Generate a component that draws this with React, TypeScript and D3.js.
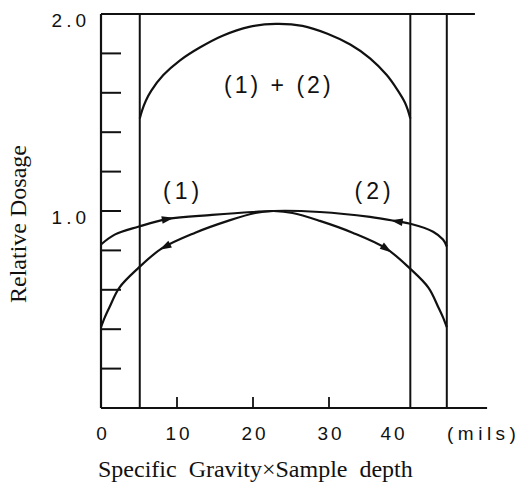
import React from "react";
import * as d3 from "d3";

// curve (1): enters from the left side, arrows point to the right
const curveOneX = [0, 1.8, 4.9, 8.8, 14.6, 19.9, 22.7, 25.2, 28.8, 33.1, 37.5, 40.6, 43.1, 44.4, 45.0, 45.5];
const curveOneY = [0.83, 0.88, 0.92, 0.96, 0.98, 0.995, 1.0, 0.99, 0.95, 0.89, 0.81, 0.71, 0.61, 0.51, 0.46, 0.41];

// curve (2): enters from the right side, arrows point to the left
const curveTwoX = [0, 0.5, 1.1, 2.4, 4.9, 8.0, 12.4, 16.7, 20.3, 22.7, 28.8, 35.4, 38.9, 40.7, 43.7, 45.0, 45.5];
const curveTwoY = [0.41, 0.46, 0.51, 0.61, 0.71, 0.81, 0.89, 0.95, 0.99, 1.0, 0.995, 0.97, 0.948, 0.935, 0.895, 0.855, 0.82];

// (1) + (2)
const sumX = [5.1, 5.4, 5.9, 6.6, 8.2, 10.4, 13.0, 16.0, 19.5, 23.0, 26.5, 29.8, 32.8, 35.4, 37.6, 39.0, 40.0, 40.4, 40.7];
const sumY = [1.47, 1.51, 1.56, 1.61, 1.69, 1.765, 1.83, 1.89, 1.935, 1.95, 1.94, 1.9, 1.845, 1.775, 1.69, 1.615, 1.55, 1.51, 1.47];

const dividers = [5.1, 40.7, 45.5];
const xTicks = [10, 20, 30];
const xLabels = ["0", "10", "20", "30", "40"];
const yTicks = [0.2, 0.4, 0.6, 0.8, 1.0, 1.2, 1.4, 1.6, 1.8];
const yLabels = ["1.0", "2.0"];

const arrowCurves = ["one", "two", "two", "one"];
const arrowAt = [8.8, 8.4, 38.9, 37.6];
const arrowDir = [1, -1, -1, 1];

const W = 528;
const H = 483;
const INK = "#111";
const SANS = "'Liberation Sans', Arial, sans-serif";
const SERIF = "'Liberation Serif', 'Times New Roman', serif";

const x = d3.scaleLinear().domain([0, 50]).range([101, 481]);
const y = d3.scaleLinear().domain([0, 2]).range([408, 14]);

function pts(xs: number[], ys: number[]): [number, number][] {
  return xs.map((v, i) => [v, ys[i]]);
}

function yAt(xs: number[], ys: number[], v: number) {
  const i = Math.max(1, Math.min(xs.length - 1, d3.bisectLeft(xs, v)));
  const t = (v - xs[i - 1]) / (xs[i] - xs[i - 1]);
  return ys[i - 1] + t * (ys[i] - ys[i - 1]);
}

export default function App() {
  const line = d3
    .line<[number, number]>()
    .x((d) => x(d[0]))
    .y((d) => y(d[1]))
    .curve(d3.curveCatmullRom.alpha(0.5));

  const curves: Record<string, [number[], number[]]> = {
    one: [curveOneX, curveOneY],
    two: [curveTwoX, curveTwoY],
  };

  const arrows = arrowAt.map((v, i) => {
    const [xs, ys] = curves[arrowCurves[i]];
    const px = x(v);
    const py = y(yAt(xs, ys, v));
    const a = x(v + 0.6) - x(v - 0.6);
    const b = y(yAt(xs, ys, v + 0.6)) - y(yAt(xs, ys, v - 0.6));
    let ang = (Math.atan2(b, a) * 180) / Math.PI;
    if (arrowDir[i] < 0) ang += 180;
    return { px, py, ang };
  });

  return (
    <svg
      width={W}
      height={H}
      style={{ position: "absolute", left: 0, top: 0, background: "#fff" }}
    >
      {/* frame */}
      <line x1={x(0)} x2={x(0)} y1={y(0)} y2={y(2)} stroke={INK} strokeWidth={2.2} />
      <line x1={x(0)} x2={x(49.2)} y1={y(2)} y2={y(2)} stroke={INK} strokeWidth={2} />
      <line x1={x(0)} x2={x(50.8)} y1={y(0)} y2={y(0)} stroke={INK} strokeWidth={2} />
      {dividers.map((d) => (
        <line key={d} x1={x(d)} x2={x(d)} y1={y(0)} y2={y(2)} stroke={INK} strokeWidth={2} />
      ))}

      {yTicks.map((t) => (
        <line key={t} x1={x(0)} x2={x(0) + 20} y1={y(t)} y2={y(t)} stroke={INK} strokeWidth={2} />
      ))}
      {xTicks.map((t) => (
        <line key={t} x1={x(t)} x2={x(t)} y1={y(0)} y2={y(0) - 11} stroke={INK} strokeWidth={1.8} />
      ))}

      {yLabels.map((l) => (
        <text
          key={l}
          x={90}
          y={y(+l) + 13}
          textAnchor="end"
          fontFamily={SANS}
          fontSize={19}
          letterSpacing={4}
          fill={INK}
        >
          {l}
        </text>
      ))}
      {xLabels.map((l) => (
        <text
          key={l}
          x={x(+l) + (l === "40" ? -11 : 2)}
          y={440}
          textAnchor="middle"
          fontFamily={SANS}
          fontSize={19}
          letterSpacing={3}
          fill={INK}
        >
          {l}
        </text>
      ))}
      <text x={447} y={440} fontFamily={SANS} fontSize={19} letterSpacing={4.5} fill={INK}>
        (mils)
      </text>

      {/* curves */}
      <path d={line(pts(curveOneX, curveOneY)) || ""} fill="none" stroke={INK} strokeWidth={2.2} />
      <path d={line(pts(curveTwoX, curveTwoY)) || ""} fill="none" stroke={INK} strokeWidth={2.2} />
      <path d={line(pts(sumX, sumY)) || ""} fill="none" stroke={INK} strokeWidth={2.2} />
      {arrows.map((a, i) => (
        <polygon
          key={i}
          points="6,0 -6,-3.8 -6,3.8"
          transform={`translate(${a.px},${a.py}) rotate(${a.ang})`}
          fill={INK}
        />
      ))}

      {/* annotations */}
      <text x={x(10.8)} y={y(1.1)} dy="0.35em" textAnchor="middle" fontFamily={SANS} fontSize={23} letterSpacing={4} fill={INK}>
        (1)
      </text>
      <text x={x(36.0)} y={y(1.1)} dy="0.35em" textAnchor="middle" fontFamily={SANS} fontSize={23} letterSpacing={4} fill={INK}>
        (2)
      </text>
      <text x={x(23.4)} y={y(1.64)} dy="0.35em" textAnchor="middle" fontFamily={SANS} fontSize={23} letterSpacing={3} fill={INK}>
        (1) + (2)
      </text>

      {/* axis titles */}
      <text
        transform="translate(26,224) rotate(-90)"
        textAnchor="middle"
        fontFamily={SERIF}
        fontSize={24}
        fill={INK}
      >
        Relative Dosage
      </text>
      <text x={98} y={477} fontFamily={SERIF} fontSize={24} wordSpacing={6} fill={INK}>
        Specific Gravity×Sample depth
      </text>
    </svg>
  );
}
